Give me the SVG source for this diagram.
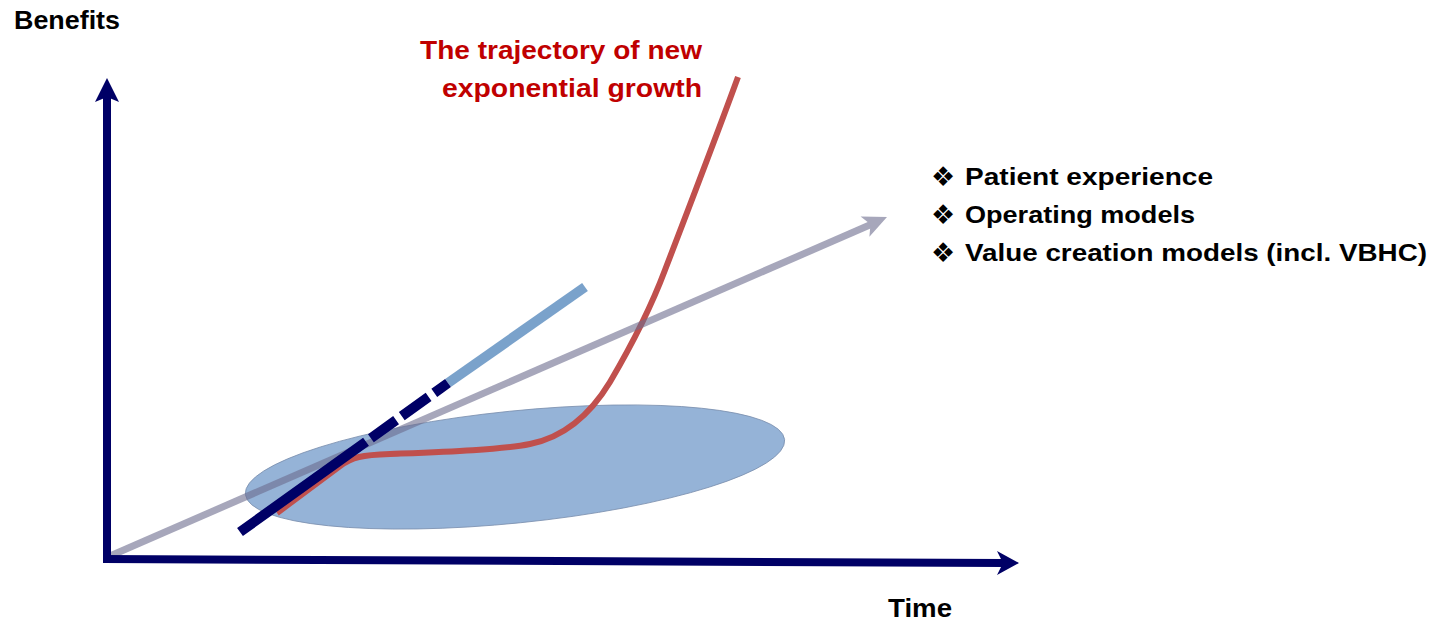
<svg xmlns="http://www.w3.org/2000/svg" width="1433" height="621" viewBox="0 0 1433 621">
  <style>
    .lbl { font-family: "Liberation Sans", Arial, sans-serif; font-weight: bold; fill: #000000; }
    .red { fill: #c00000; }
    .bul { font-family: "DejaVu Sans", sans-serif; fill: #000000; }
    .navy { fill: #000066; }
  </style>
  <rect width="1433" height="621" fill="#ffffff"/>

  <g id="cloud">
    <ellipse cx="515" cy="467" rx="271" ry="56" transform="rotate(-5.8 515 467)" fill="#95b3d7" stroke="#7a8fad" stroke-width="0.8"/>
  </g>

  <g id="connectors">
    <g id="red-trajectory">
      <path d="M277,513 L340,466 C352,457 362,455 390,454 C440,452 500,450 530,444 C565,437 590,415 610,382 C630,348 650,310 665,270 C690,205 715,140 738,77" fill="none" stroke="#c0504d" stroke-width="6"/>
    </g>
    <g id="gray-arrow" opacity="0.6">
      <line x1="110" y1="556" x2="872" y2="224" stroke="#6d6d8f" stroke-width="7"/>
      <polygon points="887,217 860.6,216.5 870.5,224.2 869.4,236.7" fill="#6d6d8f"/>
    </g>
    <g id="light-line">
      <line x1="448" y1="383" x2="585" y2="287" stroke="#7aa2cb" stroke-width="10"/>
    </g>
    <g id="navy-dashed">
      <line x1="240" y1="532" x2="448" y2="383" stroke="#000066" stroke-width="10" stroke-dasharray="155 6 31 7 33 7 20"/>
    </g>
    <g id="axes">
      <line x1="107" y1="563" x2="107" y2="96" stroke="#000066" stroke-width="8"/>
      <polygon class="navy" points="107,78 119,102 107,97 95,102"/>
      <line x1="103" y1="559" x2="1004" y2="563" stroke="#000066" stroke-width="8"/>
      <polygon class="navy" points="1019,563 997,551 1003,563 997,575"/>
    </g>
  </g>

  <g id="label-benefits">
    <text class="lbl" x="14" y="29" font-size="26" textLength="106" lengthAdjust="spacingAndGlyphs">Benefits</text>
  </g>
  <g id="label-time">
    <text class="lbl" x="888" y="617" font-size="26" textLength="64" lengthAdjust="spacingAndGlyphs">Time</text>
  </g>
  <g id="label-trajectory">
    <text class="lbl red" x="420" y="59" font-size="25" textLength="282" lengthAdjust="spacingAndGlyphs">The trajectory of new</text>
    <text class="lbl red" x="442" y="97" font-size="25" textLength="260" lengthAdjust="spacingAndGlyphs">exponential growth</text>
  </g>
  <g id="bullets">
    <text class="bul" x="931" y="186" font-size="27">❖</text>
    <text class="lbl" x="965" y="185" font-size="24" textLength="248" lengthAdjust="spacingAndGlyphs">Patient experience</text>
    <text class="bul" x="931" y="224" font-size="27">❖</text>
    <text class="lbl" x="965" y="223" font-size="24" textLength="230" lengthAdjust="spacingAndGlyphs">Operating models</text>
    <text class="bul" x="931" y="262" font-size="27">❖</text>
    <text class="lbl" x="965" y="261" font-size="24" textLength="462" lengthAdjust="spacingAndGlyphs">Value creation models (incl. VBHC)</text>
  </g>
</svg>
